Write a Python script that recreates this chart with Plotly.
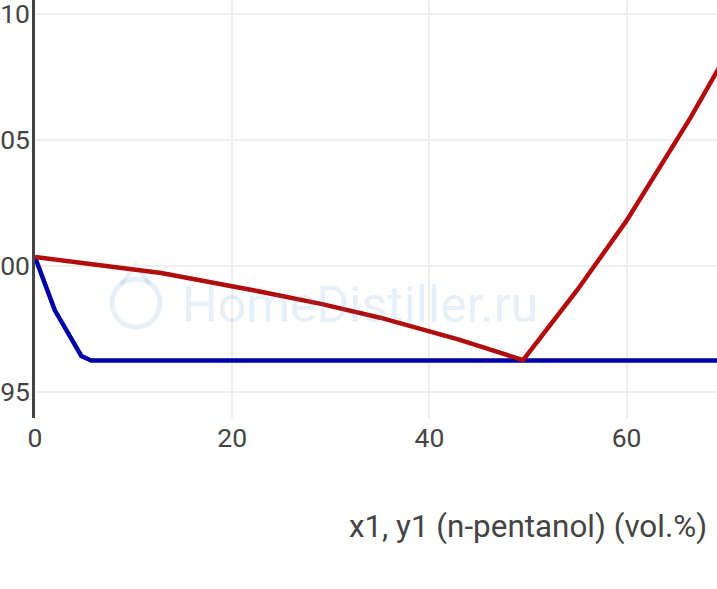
import plotly.graph_objects as go

# Values
red_x = [0, 12.8, 22, 29, 35, 43, 49.5, 55, 60, 66.5, 70]
red_y = [100.36, 99.72, 99.05, 98.5, 97.95, 97.08, 96.27, 99.05, 101.8, 105.9, 108.3]
blue_x = [0, 2, 4.7, 5.7, 49.5, 70]
blue_y = [100.36, 98.25, 96.43, 96.25, 96.25, 96.25]
x_ticks = [0, 20, 40, 60, 80, 100]
y_ticks = [95, 100, 105, 110]
x_title = "x1, y1 (n-pentanol) (vol.%)"
watermark = "HomeDistiller.ru"

W, H = 1021, 589
L, B = 35, 171
FONT = "Roboto, sans-serif"
MARK = "rgba(70,130,190,0.13)"


def px(v):
    return (v - L) / (W - L)


def py(v):
    return (H - B - v) / (H - B)


fig = go.Figure()
fig.add_trace(go.Scatter(x=blue_x, y=blue_y, mode="lines", showlegend=False,
                         line=dict(color="#0000a8", width=4.5)))
fig.add_trace(go.Scatter(x=red_x, y=red_y, mode="lines", showlegend=False,
                         line=dict(color="#b20d0d", width=4.5)))

fig.update_layout(
    width=W, height=H,
    margin=dict(l=L, r=0, t=0, b=B, autoexpand=False),
    paper_bgcolor="white", plot_bgcolor="white",
    font=dict(family=FONT, size=26.5, color="#444"),
    showlegend=False,
    xaxis=dict(range=[0, 100], tickvals=x_ticks, showgrid=True, gridcolor="#eeeeee", gridwidth=2,
               zeroline=False, showline=False, ticks="", automargin=False, ticklabelstandoff=1,
               title=dict(text=x_title, standoff=63, font=dict(size=31.4, family=FONT, color="#444"))),
    yaxis=dict(range=[93.97, 110.556], tickvals=y_ticks, showgrid=True, gridcolor="#eeeeee", gridwidth=2,
               zeroline=False, showline=True, linecolor="#444", linewidth=2.5, ticks="",
               automargin=False, ticklabelstandoff=-3, ticklabeloverflow="allow"),
    shapes=[
        dict(type="circle", xref="paper", yref="paper", layer="below",
             x0=px(112), x1=px(160), y0=py(327), y1=py(279),
             line=dict(color=MARK, width=5)),
        dict(type="path", xref="paper", yref="paper", layer="below",
             path=f"M {px(121)} {py(284)} L {px(136)} {py(265)} L {px(150)} {py(284)}",
             line=dict(color=MARK, width=4)),
    ],
    annotations=[dict(text=watermark, xref="paper", yref="paper", x=px(180), y=py(305),
                      xanchor="left", yanchor="middle", showarrow=False,
                      font=dict(family=FONT, size=50, color=MARK))],
)

fig.write_html("out.html", post_script="document.body.style.margin='0';document.body.style.overflow='hidden';document.documentElement.style.overflow='hidden';")
